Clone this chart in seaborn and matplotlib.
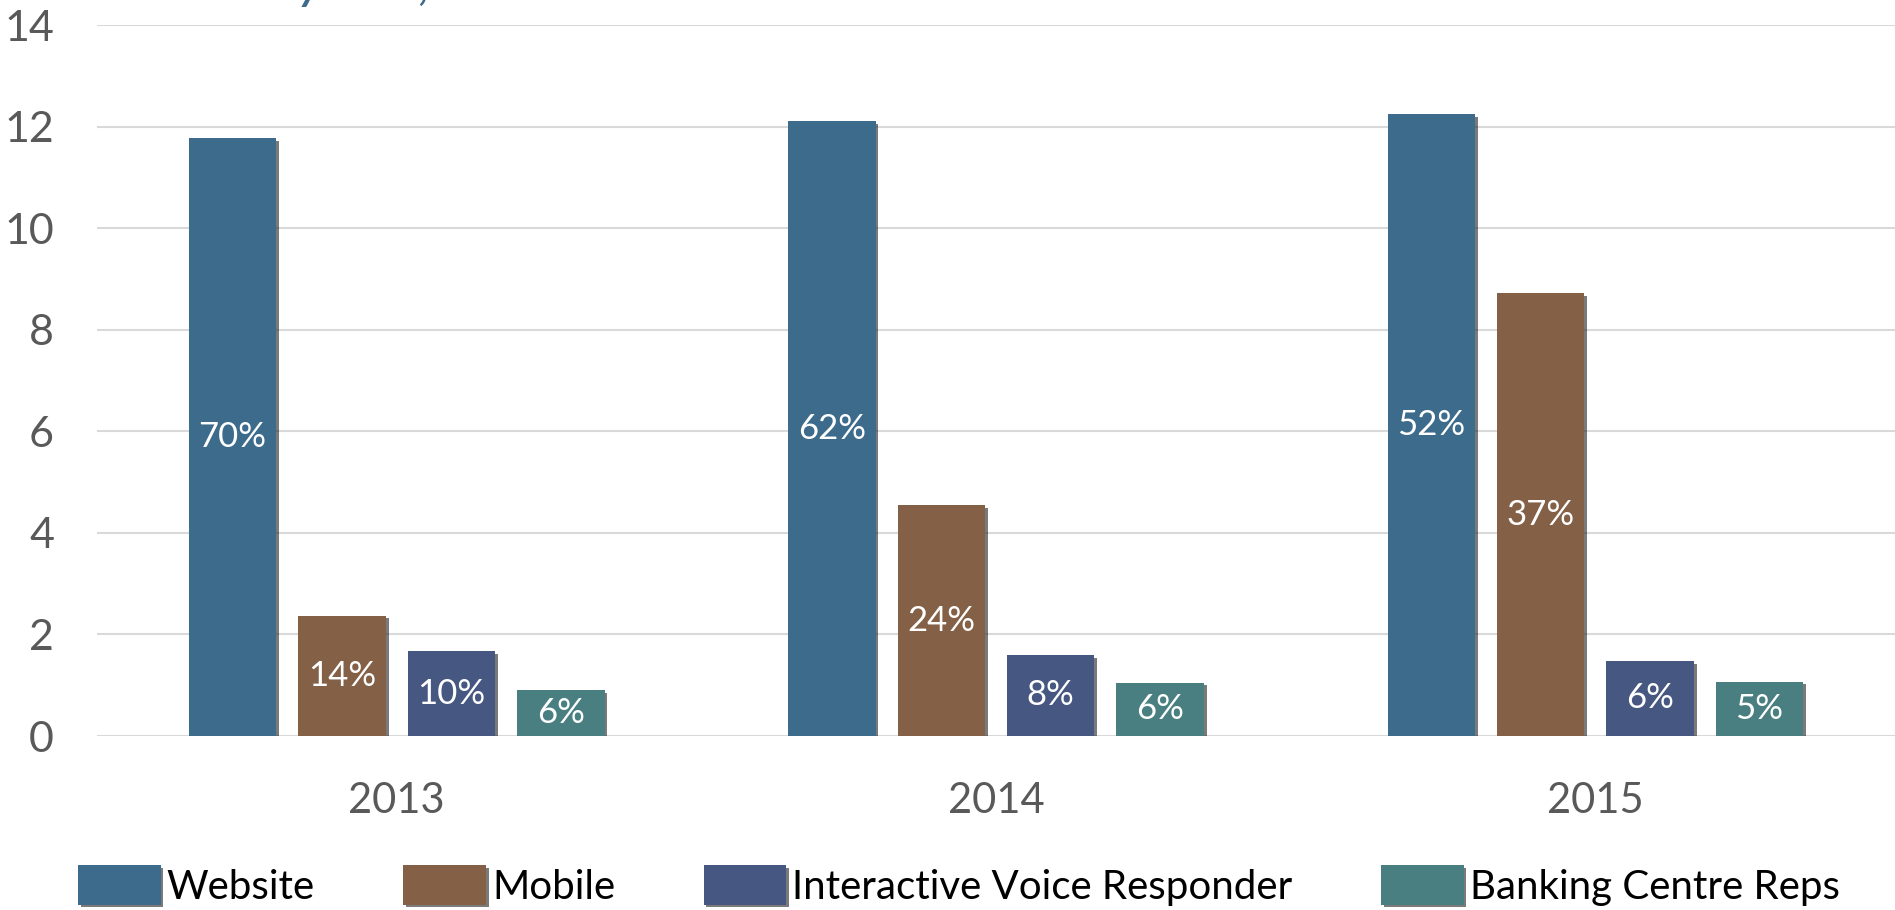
import matplotlib
matplotlib.use("Agg")
import matplotlib.pyplot as plt
import matplotlib.patheffects as pe
from matplotlib.patches import Patch
import seaborn as sns
import pandas as pd

# Channel usage by year (millions) with share labels
years = ["2013", "2014", "2015"]
channels = ["Website", "Mobile", "Interactive Voice Responder", "Banking Centre Reps"]
website = [11.78, 12.11, 12.25]
mobile = [2.37, 4.54, 8.72]
ivr = [1.67, 1.60, 1.48]
reps = [0.91, 1.05, 1.07]
share_website = ["70%", "62%", "52%"]
share_mobile = ["14%", "24%", "37%"]
share_ivr = ["10%", "8%", "6%"]
share_reps = ["6%", "6%", "5%"]
colors = ["#3D6B8C", "#836046", "#465782", "#4A7F82"]

series = [website, mobile, ivr, reps]
shares = [share_website, share_mobile, share_ivr, share_reps]
rows = []
for ch, vals in zip(channels, series):
    for yr, v in zip(years, vals):
        rows.append({"year": yr, "channel": ch, "value": v})
df = pd.DataFrame(rows)

sns.set_theme(style="white")
plt.rcParams["font.family"] = ["Lato", "DejaVu Sans"]

fig = plt.figure(figsize=(18.95, 9.10), dpi=100)
ax = fig.add_axes([0.0512, 0.1912, 0.9488, 0.7813])

sns.barplot(data=df, x="year", y="value", hue="channel", order=years,
            hue_order=channels, palette=colors, width=0.73, gap=0.2,
            saturation=1, errorbar=None, legend=False, ax=ax, zorder=3)

shadow = [pe.SimplePatchShadow(offset=(2, -2), shadow_rgbFace="#222222", alpha=0.6),
          pe.Normal()]
for cont, labs in zip(ax.containers, shares):
    for bar in cont:
        bar.set_path_effects(shadow)
        bar.set_linewidth(0)
    ax.bar_label(cont, labels=labs, label_type="center", color="white",
                 fontsize=25)

ax.set_ylim(0, 14)
ax.set_yticks(range(0, 15, 2))
ax.set_xlim(-0.5, 2.5)
ax.grid(axis="y", color="#D9D9D9", linewidth=1.5, zorder=0)
ax.set_axisbelow(True)
for s in ax.spines.values():
    s.set_visible(False)
ax.tick_params(axis="y", length=0, pad=31, labelsize=31, labelcolor="#595959")
ax.tick_params(axis="x", length=0, pad=33, labelsize=30, labelcolor="#595959")
ax.set_xlabel("")
ax.set_ylabel("")

handles = [Patch(facecolor=c, edgecolor="none",
                 path_effects=[pe.SimplePatchShadow(offset=(2, -2), shadow_rgbFace="#222222", alpha=0.6), pe.Normal()])
           for c in colors]
fig.legend(handles, channels, loc="lower left", bbox_to_anchor=(0.022, -0.035),
           ncol=4, frameon=False, fontsize=29, handlelength=2.05,
           handleheight=1.12, handletextpad=0.15, columnspacing=2.2,
           labelcolor="black")

fig.text(0.09, 1.0, "Monthly visits, in millions", color="#3D6B8C",
         fontsize=30, fontweight="bold", fontstyle="italic", va="baseline")

fig.savefig("out.png", dpi=100)
